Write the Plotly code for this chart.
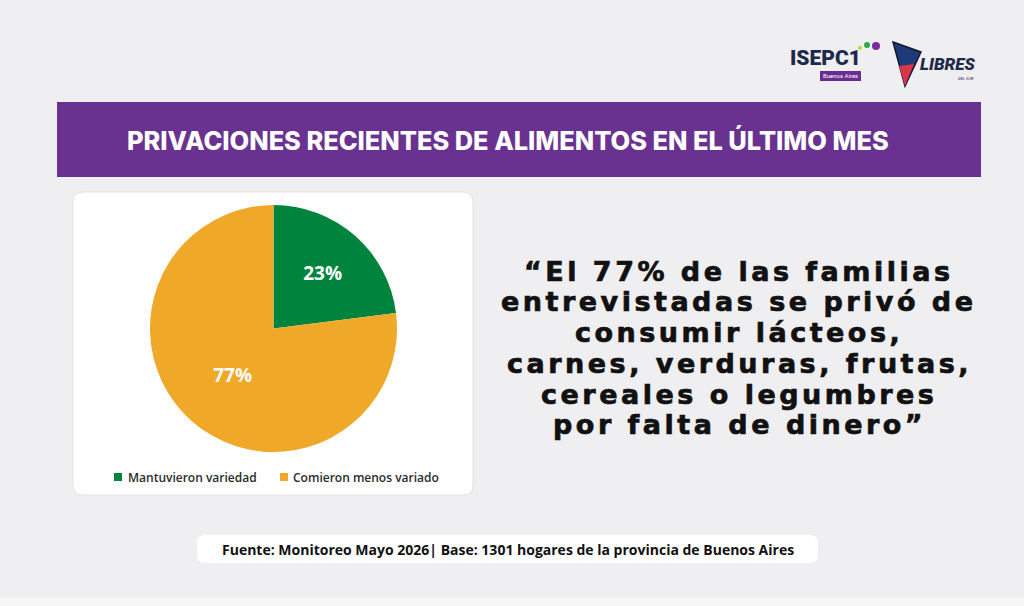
import plotly.graph_objects as go

W, H = 1024, 606

# ---- data ----
labels = ["Mantuvieron variedad", "Comieron menos variado"]
values = [23, 77]
colors = ["#00843D", "#F0A828"]

title_text = "PRIVACIONES RECIENTES DE ALIMENTOS EN EL ÚLTIMO MES"
quote_lines = [
    "“El 77% de las familias",
    "entrevistadas se privó de",
    "consumir lácteos,",
    "carnes, verduras, frutas,",
    "cereales o legumbres",
    "por falta de dinero”",
]
footer_text = "Fuente: Monitoreo Mayo 2026| Base: 1301 hogares de la provincia de Buenos Aires"

BG = "#EFEEF0"
PURPLE = "#6A3290"

def px(x):
    return x / W

def py(y):
    return 1 - y / H

fig = go.Figure()

fig.add_trace(go.Pie(
    labels=labels,
    values=values,
    marker=dict(colors=colors, line=dict(width=0)),
    sort=False,
    direction="clockwise",
    rotation=0,
    textinfo="percent",
    texttemplate="%{percent:.0%}",
    textposition="inside",
    insidetextfont=dict(family="Open Sans", size=19, color="white", weight=700),
    domain=dict(x=[px(150), px(397)], y=[py(452), py(205)]),
    showlegend=False,
    hoverinfo="label+percent",
))

shapes = []
annotations = []

def ann(x, y, text, font, xanchor="center", yanchor="middle"):
    annotations.append(dict(x=px(x), y=py(y), xref="paper", yref="paper",
                            xanchor=xanchor, yanchor=yanchor, text=text,
                            showarrow=False, font=font))

# banner
shapes.append(dict(type="rect", xref="paper", yref="paper",
                   x0=px(57), x1=px(981), y0=py(177), y1=py(102),
                   fillcolor=PURPLE, line=dict(width=0), layer="below"))
ann(508, 140, title_text, dict(family="Inter", size=25.4, color="white", weight=800))

# card (rounded rect via path)
def rounded(x0, y0, x1, y1, r):
    X0, X1 = px(x0), px(x1)
    Y0, Y1 = py(y0), py(y1)
    rx, ry = r / W, r / H
    return (f"M {X0+rx},{Y0} L {X1-rx},{Y0} Q {X1},{Y0} {X1},{Y0-ry} "
            f"L {X1},{Y1+ry} Q {X1},{Y1} {X1-rx},{Y1} L {X0+rx},{Y1} "
            f"Q {X0},{Y1} {X0},{Y1+ry} L {X0},{Y0-ry} Q {X0},{Y0} {X0+rx},{Y0} Z")

shapes.append(dict(type="path", xref="paper", yref="paper",
                   path=rounded(73, 192, 473, 495, 10),
                   fillcolor="white", line=dict(color="#E2E2E4", width=1), layer="below"))

# legend (custom)
leg = [(114, 126, labels[0], colors[0]), (280, 291, labels[1], colors[1])]
for sx, tx, lab, col in leg:
    shapes.append(dict(type="rect", xref="paper", yref="paper",
                       x0=px(sx), x1=px(sx + 8), y0=py(481), y1=py(473),
                       fillcolor=col, line=dict(width=0)))
    ann(tx, 477, lab, dict(family="Open Sans", size=12, color="#2B2B2B", weight=600),
        xanchor="left")

# quote
ys = [271, 301, 332, 363, 394, 424]
for line, yy in zip(quote_lines, ys):
    ann(739, yy,
        f'<span style="letter-spacing:3.5px;stroke:#111111;stroke-width:0.7px">{line}</span>',
        dict(family="DejaVu Sans", size=27, color="#111111", weight=700))

# footer
shapes.append(dict(type="path", xref="paper", yref="paper",
                   path=rounded(197, 535, 818, 563, 8),
                   fillcolor="white", line=dict(width=0), layer="below"))
ann(507.5, 549, footer_text, dict(family="Open Sans", size=14, color="#111111", weight=700))

# bottom strip
shapes.append(dict(type="rect", xref="paper", yref="paper",
                   x0=0, x1=1, y0=0, y1=py(598),
                   fillcolor="#F6F6F7", line=dict(width=0), layer="below"))

# logos (approximations)
ann(788, 58, "ISEPC1", dict(family="Roboto", size=21, color="#1E2A4A", weight=900), xanchor="left")
shapes.append(dict(type="rect", xref="paper", yref="paper",
                   x0=px(820), x1=px(861), y0=py(81), y1=py(71),
                   fillcolor="#6A2C8E", line=dict(width=0)))
ann(840.5, 76, "Buenos Aires", dict(family="Roboto", size=6, color="white"))
for cx, cy, r, c in [(860, 48, 2, "#C8D42A"), (867, 45, 3, "#2DA84A"), (876, 46, 4, "#7B2C9E")]:
    shapes.append(dict(type="circle", xref="paper", yref="paper",
                       x0=px(cx - r), x1=px(cx + r), y0=py(cy + r), y1=py(cy - r),
                       fillcolor=c, line=dict(width=0)))
# Libres del Sur mark
shapes.append(dict(type="path", xref="paper", yref="paper",
                   path=f"M {px(893)},{py(42)} L {px(921)},{py(52)} L {px(905)},{py(86)} Z",
                   fillcolor="#1F3A7A", line=dict(color="#101828", width=1.5)))
shapes.append(dict(type="path", xref="paper", yref="paper",
                   path=f"M {px(899)},{py(66)} L {px(914)},{py(64)} L {px(905)},{py(86)} Z",
                   fillcolor="#D8344A", line=dict(width=0)))
ann(918, 64, "<i>LIBRES</i>", dict(family="Roboto", size=17, color="#1E2A4A", weight=900),
    xanchor="left")
ann(966, 79, "DEL SUR", dict(family="Roboto", size=4, color="#1E2A4A"))

fig.update_layout(
    width=W, height=H,
    margin=dict(l=0, r=0, t=0, b=0),
    paper_bgcolor=BG, plot_bgcolor=BG,
    shapes=shapes, annotations=annotations,
    showlegend=False,
)

fig.write_html("out.html", config={"displayModeBar": False})
